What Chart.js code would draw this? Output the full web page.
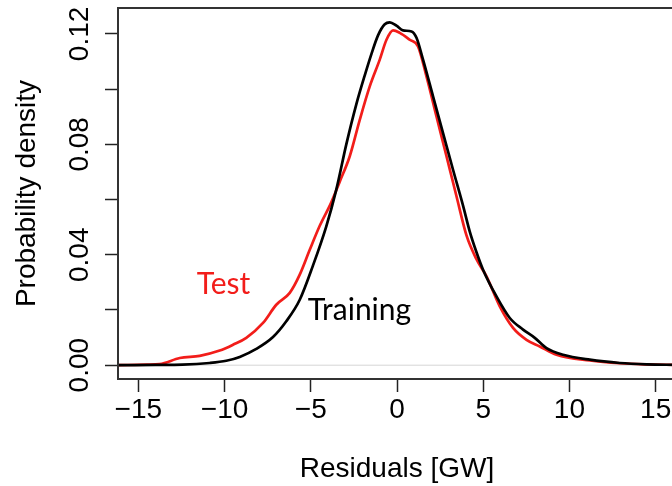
<!DOCTYPE html>
<html>
<head>
<meta charset="utf-8">
<script src="https://cdn.jsdelivr.net/npm/chart.js@4.4.1/dist/chart.umd.min.js"></script>
<style>
  html, body { margin: 0; padding: 0; overflow: hidden; background: #fff; }
  canvas { display: block; }
</style>
</head>
<body>
<canvas id="density" width="676" height="486"></canvas>
<script>
// residual densities [GW] for the training and test periods
const trainX = [-16.18, -14.0, -12.44, -10.86, -9.90, -9.12, -8.16, -7.19, -6.42, -5.64, -4.89, -4.10,
  -3.52, -2.94, -2.36, -1.87, -1.48, -1.10, -0.71, -0.42, -0.03, 0.35, 0.84, 1.13, 1.51, 2.09, 2.67,
  3.25, 3.83, 4.22, 4.60, 4.99, 5.77, 6.54, 7.31, 7.99, 8.67, 9.63, 11.18, 12.92, 14.5, 16.18];
const trainY = [0.0000, 0.0001, 0.0002, 0.0008, 0.0016, 0.0030, 0.0059, 0.0102, 0.0159, 0.0237, 0.0358, 0.0503,
  0.0636, 0.0800, 0.0945, 0.1050, 0.1128, 0.1195, 0.1235, 0.1242, 0.1230, 0.1213, 0.1209, 0.1186, 0.1107, 0.0974, 0.0841,
  0.0708, 0.0578, 0.0484, 0.0411, 0.0346, 0.0249, 0.0171, 0.0129, 0.0099, 0.0062, 0.0038, 0.0020, 0.0008, 0.0003, 0.0001];

const testX = [-16.18, -14.5, -13.76, -12.60, -11.44, -10.28, -9.51, -8.74, -7.77, -7.00, -6.22, -5.64,
  -5.06, -4.48, -3.81, -3.32, -2.74, -2.16, -1.58, -1.00, -0.61, -0.23, 0.16, 0.74, 1.22, 1.71, 2.29,
  2.87, 3.45, 4.03, 4.60, 5.19, 5.96, 6.73, 7.51, 8.28, 9.25, 11.18, 12.92, 14.5, 16.18];
const testY = [0.0000, 0.0002, 0.0004, 0.0026, 0.0034, 0.0053, 0.0074, 0.0099, 0.0153, 0.0219, 0.0262, 0.0328,
  0.0418, 0.0505, 0.0590, 0.0665, 0.0757, 0.0889, 0.1010, 0.1107, 0.1179, 0.1213, 0.1204, 0.1179, 0.1155, 0.1046, 0.0901,
  0.0757, 0.0612, 0.0470, 0.0385, 0.0322, 0.0213, 0.0135, 0.0092, 0.0068, 0.0038, 0.0017, 0.0007, 0.0003, 0.0001];

const xTicks = [-15, -10, -5, 0, 5, 10, 15];
const yTicks = [0, 0.02, 0.04, 0.06, 0.08, 0.10, 0.12];
const yTickLabels = ['0.00', '', '0.04', '', '0.08', '', '0.12'];

// where the series names sit, in data units
const testLabel = { text: 'Test', x: -11.62, y: 0.0259 };
const trainLabel = { text: 'Training', x: -5.18, y: 0.0165 };

const RED = '#f21d1a';
const AXIS_FONT = { family: '"Liberation Sans", Arial, sans-serif', size: 28 };

const toPoints = (xs, ys) => xs.map((x, i) => ({ x: x, y: ys[i] }));

// frame, y=0 reference line, rotated y labels, series names
const extras = {
  id: 'extras',
  beforeDatasetsDraw(chart) {
    const { ctx, chartArea, scales } = chart;
    const y0 = scales.y.getPixelForValue(0);
    ctx.save();
    ctx.strokeStyle = '#d6d6d6';
    ctx.lineWidth = 1;
    ctx.beginPath();
    ctx.moveTo(chartArea.left, y0);
    ctx.lineTo(chartArea.right, y0);
    ctx.stroke();
    ctx.restore();
  },
  afterDraw(chart) {
    const { ctx, chartArea, scales } = chart;
    ctx.save();
    ctx.strokeStyle = '#333';
    ctx.lineWidth = 2;
    ctx.strokeRect(chartArea.left, chartArea.top, chartArea.right - chartArea.left, chartArea.bottom - chartArea.top);

    ctx.fillStyle = '#000';
    ctx.font = '28px "Liberation Sans", Arial, sans-serif';
    ctx.textAlign = 'center';
    ctx.textBaseline = 'alphabetic';
    yTicks.forEach((v, i) => {
      if (!yTickLabels[i]) return;
      ctx.save();
      ctx.translate(88, scales.y.getPixelForValue(v));
      ctx.rotate(-Math.PI / 2);
      ctx.fillText(yTickLabels[i], 0, 0);
      ctx.restore();
    });

    ctx.font = '30px Lato, sans-serif';
    ctx.textAlign = 'left';
    ctx.fillStyle = RED;
    ctx.fillText(testLabel.text, scales.x.getPixelForValue(testLabel.x), scales.y.getPixelForValue(testLabel.y));
    ctx.fillStyle = '#000';
    ctx.fillText(trainLabel.text, scales.x.getPixelForValue(trainLabel.x), scales.y.getPixelForValue(trainLabel.y));
    ctx.restore();
  }
};

new Chart(document.getElementById('density'), {
  type: 'line',
  data: {
    datasets: [
      {
        label: 'Training',
        data: toPoints(trainX, trainY),
        borderColor: '#000',
        borderWidth: 2.7,
        pointRadius: 0,
        cubicInterpolationMode: 'monotone',
        fill: false
      },
      {
        label: 'Test',
        data: toPoints(testX, testY),
        borderColor: RED,
        borderWidth: 2.7,
        pointRadius: 0,
        cubicInterpolationMode: 'monotone',
        fill: false
      }
    ]
  },
  options: {
    responsive: false,
    animation: false,
    devicePixelRatio: 1,
    layout: { padding: { top: 8, right: 0, bottom: 0, left: 0 } },
    plugins: { legend: { display: false }, tooltip: { enabled: false } },
    scales: {
      x: {
        type: 'linear',
        min: -16.18,
        max: 16.18,
        afterBuildTicks: s => { s.ticks = xTicks.map(v => ({ value: v })); },
        afterFit: s => { s.height = 107; },
        grid: { drawOnChartArea: false, tickLength: 13, tickColor: '#222', tickWidth: 1.5 },
        border: { display: false },
        ticks: {
          color: '#000',
          font: AXIS_FONT,
          padding: 1,
          maxRotation: 0,
          callback: v => (v < 0 ? '\u2212' + Math.abs(v) : String(v))
        },
        title: { display: true, text: 'Residuals [GW]', color: '#000', font: AXIS_FONT, padding: { top: 0, bottom: 0 } }
      },
      y: {
        type: 'linear',
        min: -0.005,
        max: 0.1294,
        afterBuildTicks: s => { s.ticks = yTicks.map(v => ({ value: v })); },
        afterFit: s => { s.width = 118; },
        grid: { drawOnChartArea: false, tickLength: 13, tickColor: '#222', tickWidth: 1.5 },
        border: { display: false },
        ticks: { display: false },
        title: { display: true, text: 'Probability density', color: '#000', font: AXIS_FONT, padding: { top: 10, bottom: 0 } }
      }
    }
  },
  plugins: [extras]
});
</script>
</body>
</html>
